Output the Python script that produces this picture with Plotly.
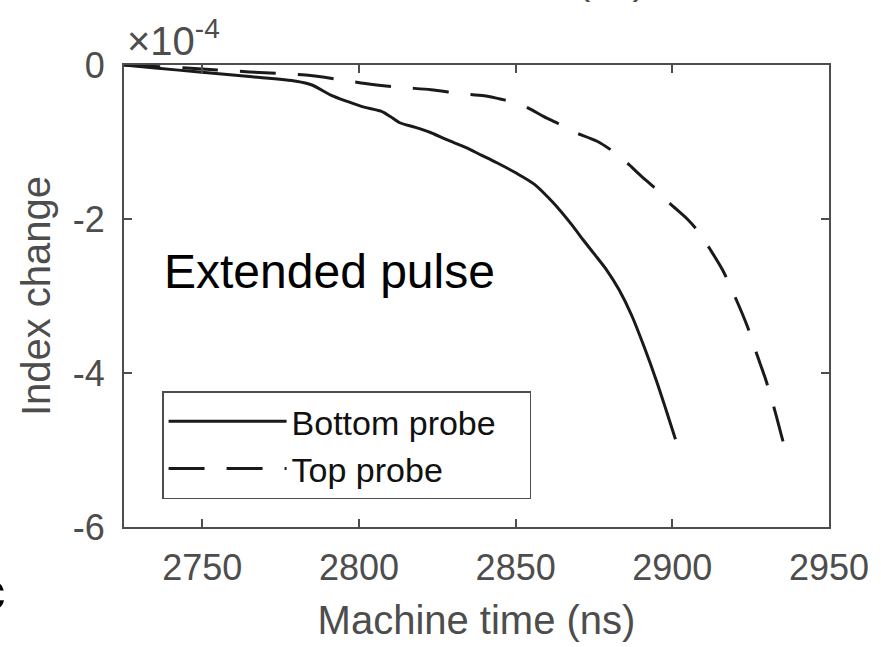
import plotly.graph_objects as go

# Data (index change in units of 1e-4)
bottom_t = [2725, 2735, 2749, 2765, 2780, 2785, 2791, 2796, 2801, 2807, 2810, 2813, 2818,
            2823, 2828, 2834, 2839, 2844, 2850, 2856, 2862, 2868, 2871.5, 2875, 2879, 2883,
            2887, 2891, 2895, 2898, 2901]
bottom_v = [0, -0.04, -0.09, -0.15, -0.21, -0.26, -0.39, -0.47, -0.54, -0.60, -0.67, -0.75,
            -0.81, -0.88, -0.97, -1.07, -1.17, -1.27, -1.40, -1.55, -1.79, -2.08, -2.27,
            -2.45, -2.66, -2.92, -3.25, -3.66, -4.11, -4.48, -4.86]

top_t = [2725, 2745, 2765, 2783, 2794, 2802, 2813, 2823, 2832, 2840, 2846, 2851, 2855, 2859,
         2864, 2868, 2876, 2881, 2885, 2890, 2895, 2899, 2905, 2909, 2912, 2916, 2920, 2924,
         2927, 2930, 2933, 2935, 2937]
top_v = [0, -0.04, -0.09, -0.13, -0.19, -0.24, -0.29, -0.32, -0.37, -0.40, -0.45, -0.50,
         -0.58, -0.67, -0.77, -0.86, -0.99, -1.12, -1.25, -1.44, -1.62, -1.79, -2.01, -2.20,
         -2.39, -2.66, -3.01, -3.40, -3.76, -4.11, -4.53, -4.84, -5.12]

x_ticks = [2750, 2800, 2850, 2900, 2950]
y_ticks = [-6, -4, -2, 0]
y_ticktext = ["-6", "-4", "-2", "0"]

FONT = "Liberation Sans, Arial, Helvetica, sans-serif"
GRAY = "#4d4d4d"

fig = go.Figure()
fig.add_trace(go.Scatter(x=bottom_t, y=bottom_v, mode="lines",
                         name="Bottom probe&nbsp;&nbsp;&nbsp;",
                         line=dict(color="#1a1a1a", width=3, shape="spline", smoothing=0.8)))
fig.add_trace(go.Scatter(x=top_t, y=top_v, mode="lines", name="Top probe",
                         line=dict(color="#1a1a1a", width=3, dash="36px,22px",
                                   shape="spline", smoothing=0.8)))

fig.update_layout(
    width=881, height=647, autosize=False,
    margin=dict(l=123.5, r=46, t=65, b=119),
    paper_bgcolor="white", plot_bgcolor="white",
    font=dict(family=FONT, size=36, color=GRAY),
    showlegend=True,
    legend=dict(x=0.054, y=0.294, xanchor="left", yanchor="top",
                bgcolor="white", bordercolor=GRAY, borderwidth=1.5,
                font=dict(family=FONT, size=34, color="#111111"),
                itemwidth=118, tracegroupgap=0),
    xaxis=dict(range=[2725, 2950], tickvals=x_ticks, ticks="inside", ticklen=8,
               tickwidth=2, tickcolor=GRAY, showline=True, linecolor=GRAY, linewidth=2,
               mirror="ticks", showgrid=False, zeroline=False, ticklabelstandoff=8,
               tickfont=dict(size=36, color=GRAY),
               title=dict(text="Machine time (ns)", font=dict(size=40, color=GRAY), standoff=19)),
    yaxis=dict(range=[-6, 0], tickvals=y_ticks, ticktext=y_ticktext, ticks="inside",
               ticklen=8, tickwidth=2, tickcolor=GRAY, showline=True, linecolor=GRAY,
               linewidth=2, mirror="ticks", showgrid=False, zeroline=False,
               ticklabelstandoff=10,
               tickfont=dict(size=36, color=GRAY),
               title=dict(text="Index change", font=dict(size=40, color=GRAY), standoff=10)),
)

fig.add_annotation(x=2737, y=-2.68, xref="x", yref="y", text="Extended pulse",
                   showarrow=False, xanchor="left", yanchor="middle",
                   font=dict(family=FONT, size=48, color="black"))
fig.add_annotation(x=0.002, y=1.0, xref="paper", yref="paper",
                   text="×10<sup>-4</sup>", showarrow=False, xanchor="left", yanchor="bottom",
                   font=dict(family=FONT, size=40, color=GRAY))
# clipped label of the panel above
fig.add_annotation(x=0.515, y=1.1317, xref="paper", yref="paper", text="Machine time (ns)",
                   showarrow=False, xanchor="center", yanchor="bottom",
                   font=dict(family=FONT, size=40, color=GRAY))
# clipped panel letter
fig.add_annotation(x=-0.165, y=-0.138, xref="paper", yref="paper", text="<b>c</b>",
                   showarrow=False, xanchor="right", yanchor="middle",
                   font=dict(family=FONT, size=55, color="black"))

fig.write_html("out.html")
